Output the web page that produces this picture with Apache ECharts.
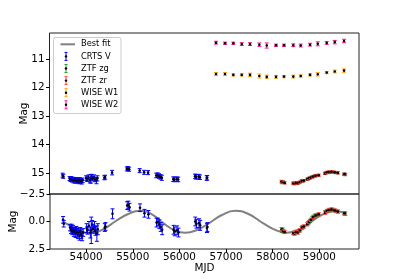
<!DOCTYPE html>
<html><head><meta charset="utf-8">
<script src="https://cdn.jsdelivr.net/npm/echarts@6/dist/echarts.min.js"></script>
<style>html,body{margin:0;padding:0;background:#fff}#c{width:399px;height:279px}</style>
</head><body><div id="c"></div>
<script>
// ---- data ----
const xTicks = [54000, 55000, 56000, 57000, 58000, 59000];
const yTicksTop = [11, 12, 13, 14, 15];
const yTicksBottom = [-2.5, 0, 2.5];

const fitMjd = [53520, 53770, 54080, 54370, 54620, 54900, 55155, 55400, 55660, 55910, 56125, 56380, 56630, 56910, 57196, 57480, 57800, 58090, 58300, 58560, 58800, 59050, 59300, 59560];
const fitVal = [0.05, 0.62, 1.07, 0.70, 0.0, -0.68, -0.97, -0.68, 0.17, 0.83, 1.02, 0.77, 0.17, -0.59, -0.97, -0.68, 0.17, 0.83, 1.02, 0.75, 0.1, -0.6, -0.95, -0.75];

const crtsMjd = [53505, 53520, 53655, 53675, 53690, 53705, 53720, 53740, 53755, 53775, 53790, 53805, 53825, 53840, 53860, 53875, 53895, 53915, 53935, 54010, 54030, 54060, 54090, 54110, 54130, 54150, 54180, 54200, 54230, 54250, 54400, 54415, 54565, 54880, 54905, 54930, 55155, 55250, 55335, 55510, 55540, 55570, 55600, 55630, 55875, 55900, 55950, 55980, 56340, 56365, 56420, 56445, 56590, 56600];
const crtsMag = [15.07, 15.11, 15.19, 15.22, 15.20, 15.24, 15.21, 15.26, 15.23, 15.27, 15.22, 15.25, 15.28, 15.24, 15.29, 15.23, 15.27, 15.30, 15.25, 15.17, 15.21, 15.14, 15.25, 15.20, 15.12, 15.19, 15.15, 15.22, 15.26, 15.18, 15.16, 15.14, 14.98, 14.85, 14.84, 14.86, 14.91, 14.97, 14.98, 15.08, 15.07, 15.10, 15.13, 15.16, 15.21, 15.22, 15.21, 15.22, 15.11, 15.13, 15.12, 15.14, 15.17, 15.16];
const crtsErr = [0.07, 0.07, 0.07, 0.07, 0.08, 0.07, 0.07, 0.08, 0.07, 0.08, 0.07, 0.08, 0.07, 0.08, 0.08, 0.07, 0.08, 0.08, 0.08, 0.08, 0.08, 0.08, 0.09, 0.15, 0.08, 0.08, 0.09, 0.08, 0.11, 0.09, 0.07, 0.07, 0.08, 0.07, 0.07, 0.07, 0.07, 0.07, 0.07, 0.08, 0.08, 0.08, 0.08, 0.09, 0.08, 0.08, 0.08, 0.08, 0.08, 0.08, 0.08, 0.08, 0.08, 0.08];
const crtsNorm = [-0.15, 0.2, 0.55, 0.75, 0.6, 0.9, 0.7, 1.0, 0.85, 1.1, 0.8, 1.0, 1.2, 0.95, 1.3, 0.9, 1.15, 1.35, 1.0, 0.6, 0.8, 0.4, 1.0, 0.8, 0.3, 0.65, 0.45, 0.85, 1.1, 0.7, 0.55, 0.45, -0.7, -1.45, -1.5, -1.3, -1.25, -0.75, -0.65, 0.1, 0.05, 0.25, 0.5, 0.75, 0.75, 0.9, 0.8, 1.0, 0.0, 0.2, 0.15, 0.35, 0.6, 0.5];
const crtsNormErr = [0.3, 0.3, 0.3, 0.35, 0.35, 0.3, 0.35, 0.35, 0.3, 0.35, 0.35, 0.4, 0.35, 0.35, 0.4, 0.35, 0.4, 0.4, 0.35, 0.4, 0.35, 0.4, 0.5, 1.2, 0.4, 0.4, 0.45, 0.4, 0.7, 0.5, 0.35, 0.35, 0.45, 0.35, 0.35, 0.35, 0.35, 0.35, 0.35, 0.4, 0.35, 0.4, 0.4, 0.45, 0.4, 0.4, 0.4, 0.4, 0.4, 0.4, 0.4, 0.45, 0.4, 0.4];

const zgMjd = [58200, 58215, 58450, 58480, 58520, 58560, 58620, 58650, 58760, 58800, 58850, 58900, 58960, 59130, 59180, 59230, 59300, 59360, 59530, 59555];
const zgMag = [15.33, 15.30, 15.36, 15.35, 15.34, 15.33, 15.28, 15.27, 15.20, 15.17, 15.13, 15.10, 15.08, 15.00, 14.98, 14.97, 14.96, 14.98, 15.04, 15.05];
const zgErr = [0.04, 0.04, 0.04, 0.04, 0.04, 0.04, 0.04, 0.04, 0.04, 0.04, 0.04, 0.04, 0.04, 0.04, 0.04, 0.04, 0.04, 0.04, 0.04, 0.04];
const zgNorm = [0.85, 0.75, 1.05, 1.0, 0.95, 0.85, 0.6, 0.5, 0.15, -0.05, -0.3, -0.5, -0.6, -0.85, -0.95, -1.0, -1.05, -0.95, -0.75, -0.7];
const zgNormErr = [0.15, 0.15, 0.15, 0.15, 0.15, 0.15, 0.15, 0.15, 0.15, 0.15, 0.15, 0.15, 0.15, 0.15, 0.15, 0.15, 0.15, 0.15, 0.15, 0.15];

const zrMjd = [58190, 58230, 58260, 58440, 58470, 58500, 58540, 58590, 58630, 58670, 58740, 58780, 58820, 58870, 58920, 58990, 59120, 59160, 59200, 59260, 59330, 59400, 59540];
const zrMag = [15.29, 15.32, 15.34, 15.35, 15.37, 15.34, 15.35, 15.31, 15.27, 15.26, 15.21, 15.18, 15.15, 15.12, 15.09, 15.07, 15.01, 14.97, 14.96, 14.95, 14.97, 14.99, 15.03];
const zrErr = [0.04, 0.04, 0.04, 0.04, 0.04, 0.04, 0.04, 0.04, 0.04, 0.04, 0.04, 0.04, 0.04, 0.04, 0.04, 0.04, 0.04, 0.04, 0.04, 0.04, 0.04, 0.04, 0.04];
const zrNorm = [0.7, 0.9, 0.95, 1.05, 1.1, 0.95, 1.0, 0.8, 0.55, 0.45, 0.25, 0.05, -0.15, -0.4, -0.55, -0.65, -0.8, -0.95, -1.05, -1.1, -1.0, -0.9, -0.75];
const zrNormErr = [0.15, 0.15, 0.15, 0.15, 0.15, 0.15, 0.15, 0.15, 0.15, 0.15, 0.15, 0.15, 0.15, 0.15, 0.15, 0.15, 0.15, 0.15, 0.15, 0.15, 0.15, 0.15, 0.15];

const wiseMjd = [56789, 56982, 57160, 57340, 57517, 57717, 57875, 58074, 58245, 58444, 58603, 58802, 58967, 59159, 59331, 59530];
const w1Mag = [11.52, 11.52, 11.55, 11.55, 11.55, 11.59, 11.62, 11.62, 11.61, 11.61, 11.59, 11.55, 11.53, 11.47, 11.43, 11.40];
const w1Err = [0.05, 0.05, 0.04, 0.04, 0.06, 0.07, 0.06, 0.05, 0.04, 0.05, 0.04, 0.04, 0.06, 0.04, 0.05, 0.06];
const w2Mag = [10.42, 10.44, 10.44, 10.47, 10.47, 10.49, 10.52, 10.51, 10.51, 10.51, 10.52, 10.49, 10.46, 10.43, 10.40, 10.36];
const w2Err = [0.05, 0.04, 0.04, 0.05, 0.05, 0.06, 0.09, 0.04, 0.04, 0.05, 0.05, 0.05, 0.07, 0.05, 0.06, 0.06];

// ---- styling ----
const FONT = 'DejaVu Sans';
const C_CRTS = '#0000ff', C_ZG = '#2ca02c', C_ZR = '#ff4040', C_W1 = '#ffa500', C_W2 = '#ff1493', C_FIT = '#808080';

function zip3(a, b, c) { return a.map((v, i) => [v, b[i], c[i]]); }

function errItem(color) {
  return function (params, api) {
    const x = api.value(0), y = api.value(1), e = api.value(2);
    const p = api.coord([x, y]);
    const pt = api.coord([x, y - e]);
    const pb = api.coord([x, y + e]);
    const cap = 2;
    const st = { stroke: color, lineWidth: 1 };
    return {
      type: 'group', children: [
        { type: 'line', shape: { x1: p[0], y1: pt[1], x2: p[0], y2: pb[1] }, style: st },
        { type: 'line', shape: { x1: p[0] - cap, y1: pt[1], x2: p[0] + cap, y2: pt[1] }, style: st },
        { type: 'line', shape: { x1: p[0] - cap, y1: pb[1], x2: p[0] + cap, y2: pb[1] }, style: st },
        { type: 'circle', shape: { cx: p[0], cy: p[1], r: 1.3 }, style: { fill: '#000' } }
      ]
    };
  };
}

function errSeries(name, color, data, gi) {
  return {
    name: name, type: 'custom', xAxisIndex: gi, yAxisIndex: gi,
    renderItem: errItem(color), data: data, encode: { x: 0, y: 1 }, clip: true, z: 3
  };
}

const GL = 49.5, GR = 40;
const xMin = 53225, xMax = 59850;

const chart = echarts.init(document.getElementById('c'), null, { renderer: 'canvas' });

function legendGraphics() {
  const items = [
    { t: 'Best fit', c: C_FIT, line: true },
    { t: 'CRTS V', c: C_CRTS }, { t: 'ZTF zg', c: C_ZG }, { t: 'ZTF zr', c: C_ZR },
    { t: 'WISE W1', c: C_W1 }, { t: 'WISE W2', c: C_W2 }
  ];
  const g = [{ type: 'rect', shape: { x: 53.5, y: 37.5, width: 67.5, height: 76, r: 2 }, style: { fill: 'rgba(255,255,255,0.8)', stroke: '#cccccc', lineWidth: 1 }, z: 100 }];
  items.forEach((it, i) => {
    const y = 44.3 + i * 12.1;
    if (it.line) {
      g.push({ type: 'line', shape: { x1: 60.5, y1: y, x2: 75, y2: y }, style: { stroke: it.c, lineWidth: 2 }, z: 101 });
    } else {
      const x = 66;
      g.push({ type: 'line', shape: { x1: x, y1: y - 4, x2: x, y2: y + 4 }, style: { stroke: it.c, lineWidth: 1 }, z: 101 });
      g.push({ type: 'line', shape: { x1: x - 1.5, y1: y - 4, x2: x + 1.5, y2: y - 4 }, style: { stroke: it.c, lineWidth: 1 }, z: 101 });
      g.push({ type: 'line', shape: { x1: x - 1.5, y1: y + 4, x2: x + 1.5, y2: y + 4 }, style: { stroke: it.c, lineWidth: 1 }, z: 101 });
      g.push({ type: 'circle', shape: { cx: x, cy: y, r: 1.2 }, style: { fill: '#000' }, z: 102 });
    }
    g.push({ type: 'text', x: 81, y: y, style: { text: it.t, font: '8.3px "DejaVu Sans"', fill: '#000', textVerticalAlign: 'middle' }, z: 101 });
  });
  return g;
}

const option = {
  animation: false,
  backgroundColor: '#fff',
  textStyle: { fontFamily: FONT },
  grid: [
    { left: GL, right: GR, top: 33, height: 161, show: true, borderColor: '#222', borderWidth: 1, backgroundColor: 'transparent' },
    { left: GL, right: GR, top: 194, height: 55, show: true, borderColor: '#222', borderWidth: 1, backgroundColor: 'transparent' }
  ],
  xAxis: [
    { gridIndex: 0, type: 'value', min: xMin, max: xMax, axisLine: { show: false, onZero: false }, axisTick: { show: false }, axisLabel: { show: false }, splitLine: { show: false } },
    { gridIndex: 1, type: 'value', min: xMin, max: xMax, axisLine: { show: false, onZero: false },
      axisTick: { show: true, length: 3.5, lineStyle: { color: '#000' }, customValues: xTicks },
      axisLabel: { show: true, customValues: xTicks, fontSize: 10.4, fontFamily: FONT, color: '#000', margin: 3, formatter: v => String(v) },
      splitLine: { show: false },
      name: 'MJD', nameLocation: 'middle', nameGap: 14, nameMoveOverlap: false, nameTextStyle: { fontSize: 10.4, fontFamily: FONT, color: '#000' } }
  ],
  yAxis: [
    { gridIndex: 0, type: 'value', inverse: true, min: 10.08, max: 15.73, axisLine: { show: false, onZero: false },
      axisTick: { show: true, length: 3.5, lineStyle: { color: '#000' }, customValues: yTicksTop },
      axisLabel: { show: true, customValues: yTicksTop, fontSize: 10.4, fontFamily: FONT, color: '#000', margin: 5, formatter: v => String(v) },
      splitLine: { show: false },
      name: 'Mag', nameLocation: 'middle', nameRotate: 90, nameGap: 20, nameMoveOverlap: false, nameTextStyle: { fontSize: 10.4, fontFamily: FONT, color: '#000' } },
    { gridIndex: 1, type: 'value', inverse: true, min: -2.5, max: 2.5, axisLine: { show: false, onZero: false },
      axisTick: { show: true, length: 3.5, lineStyle: { color: '#000' }, customValues: yTicksBottom },
      axisLabel: { show: true, customValues: yTicksBottom, fontSize: 10.4, fontFamily: FONT, color: '#000', margin: 5,
        formatter: v => (v < 0 ? '\u2212' : '') + Math.abs(v).toFixed(1) },
      splitLine: { show: false },
      name: 'Mag', nameLocation: 'middle', nameRotate: 90, nameGap: 32, nameMoveOverlap: false, nameTextStyle: { fontSize: 10.4, fontFamily: FONT, color: '#000' } }
  ],
  series: [
    { name: 'Best fit', type: 'line', xAxisIndex: 1, yAxisIndex: 1, data: fitMjd.map((m, i) => [m, fitVal[i]]),
      smooth: 0.5, showSymbol: false, symbol: 'none', lineStyle: { color: C_FIT, width: 2 }, z: 2 },
    errSeries('CRTS V', C_CRTS, zip3(crtsMjd, crtsMag, crtsErr), 0),
    errSeries('ZTF zg', C_ZG, zip3(zgMjd, zgMag, zgErr), 0),
    errSeries('ZTF zr', C_ZR, zip3(zrMjd, zrMag, zrErr), 0),
    errSeries('WISE W1', C_W1, zip3(wiseMjd, w1Mag, w1Err), 0),
    errSeries('WISE W2', C_W2, zip3(wiseMjd, w2Mag, w2Err), 0),
    errSeries('CRTS V', C_CRTS, zip3(crtsMjd, crtsNorm, crtsNormErr), 1),
    errSeries('ZTF zg', C_ZG, zip3(zgMjd, zgNorm, zgNormErr), 1),
    errSeries('ZTF zr', C_ZR, zip3(zrMjd, zrNorm, zrNormErr), 1)
  ],
  graphic: legendGraphics()
};
chart.setOption(option);
</script>
</body></html>
